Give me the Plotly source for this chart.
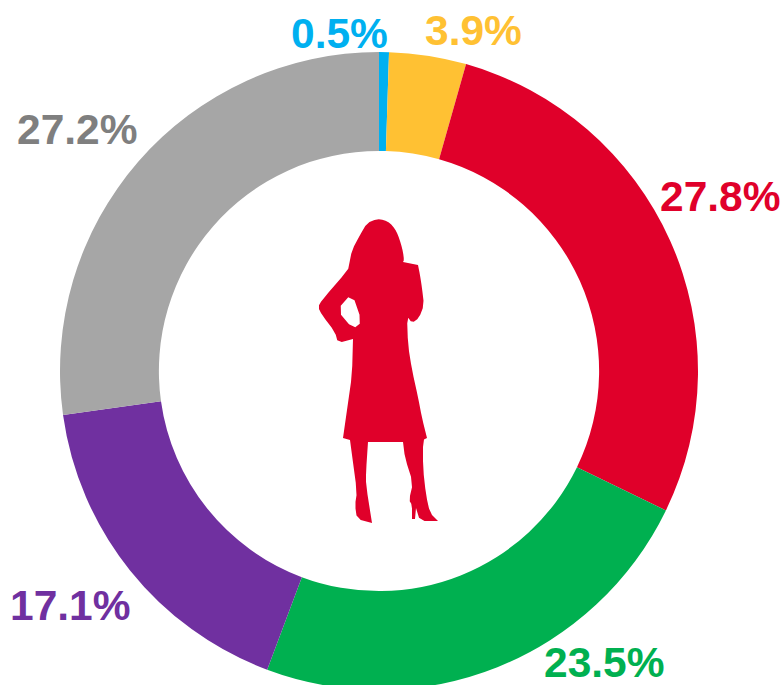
import plotly.graph_objects as go

categories = ["Blue", "Yellow", "Red", "Green", "Purple", "Grey"]
values = [0.5, 3.9, 27.8, 23.5, 17.1, 27.2]
slice_colors = ["#00B0F0", "#FFC133", "#E0002A", "#00B050", "#7030A0", "#A6A6A6"]
label_colors = ["#00B0F0", "#FFC133", "#E0002A", "#00B050", "#7030A0", "#7F7F7F"]
label_centres = [(339, 33), (473, 31), (720, 197), (604, 662), (70, 605), (77, 129)]

W, H = 781, 700
CX, CY, R = 379, 371, 319


def px(x):
    return x / W


def py(y):
    return 1 - y / H


outline = [
    (377, 219), (384, 220), (390, 223), (395, 229), (398, 235), (401, 244), (403, 252),
    (404, 260), (403, 262), (403, 262), (418, 265), (418, 265), (420, 275), (422, 288), (424, 305),
    (419, 318), (412, 323), (407, 316), (408, 345), (412, 370), (418, 397), (422, 418),
    (427, 438), (427, 438), (423, 440), (423, 468), (426, 495), (430, 513), (438, 521), (438, 521),
    (420, 521), (416, 508), (416, 508), (415, 519), (415, 519), (412, 519), (412, 519), (412, 505), (409, 500),
    (413, 483), (405, 458), (403, 442), (403, 442), (368, 442), (368, 442), (366, 472), (366, 485),
    (372, 523), (372, 523), (357, 519), (355, 505), (357, 492), (352, 455), (350, 440), (350, 440),
    (343, 438), (343, 438), (348, 403), (352, 375), (353, 339), (353, 339), (338, 343), (335, 332),
    (322, 315), (318, 307), (322, 300), (348, 270), (349, 265), (352, 250), (360, 235), (367, 223),
]
arm_gap = [(352, 293), (337, 310), (353, 329), (362, 322)]


def chaikin(points):
    result = []
    n = len(points)
    for i in range(n):
        a, b = points[i], points[(i + 1) % n]
        result.append((0.75 * a[0] + 0.25 * b[0], 0.75 * a[1] + 0.25 * b[1]))
        result.append((0.25 * a[0] + 0.75 * b[0], 0.25 * a[1] + 0.75 * b[1]))
    return result


def to_path(points):
    return "M " + " L ".join(f"{px(x):.5f},{py(y):.5f}" for x, y in chaikin(points)) + " Z"


fig = go.Figure(
    go.Pie(
        labels=categories,
        values=values,
        hole=0.69,
        sort=False,
        direction="clockwise",
        rotation=0,
        textinfo="none",
        showlegend=False,
        marker=dict(colors=slice_colors, line=dict(width=0)),
        domain=dict(x=[px(CX - R), px(CX + R)], y=[py(CY + R), py(CY - R)]),
    )
)

for value, colour, (x, y) in zip(values, label_colors, label_centres):
    fig.add_annotation(
        x=px(x), y=py(y), xref="paper", yref="paper",
        text=f"<b>{value}%</b>", showarrow=False,
        xanchor="center", yanchor="middle",
        font=dict(family="Liberation Sans", size=42.5, color=colour),
    )

fig.add_shape(
    type="path", xref="paper", yref="paper",
    path=to_path(outline) + " " + to_path(arm_gap),
    fillcolor="#E0002A", line=dict(width=0),
)

fig.update_layout(
    width=W, height=H, autosize=False,
    margin=dict(l=0, r=0, t=0, b=0),
    paper_bgcolor="white", plot_bgcolor="white",
)

fig.write_html(
    "out.html",
    post_script="document.body.style.margin='0';document.documentElement.style.overflow='hidden';",
    config={"displayModeBar": False},
)
